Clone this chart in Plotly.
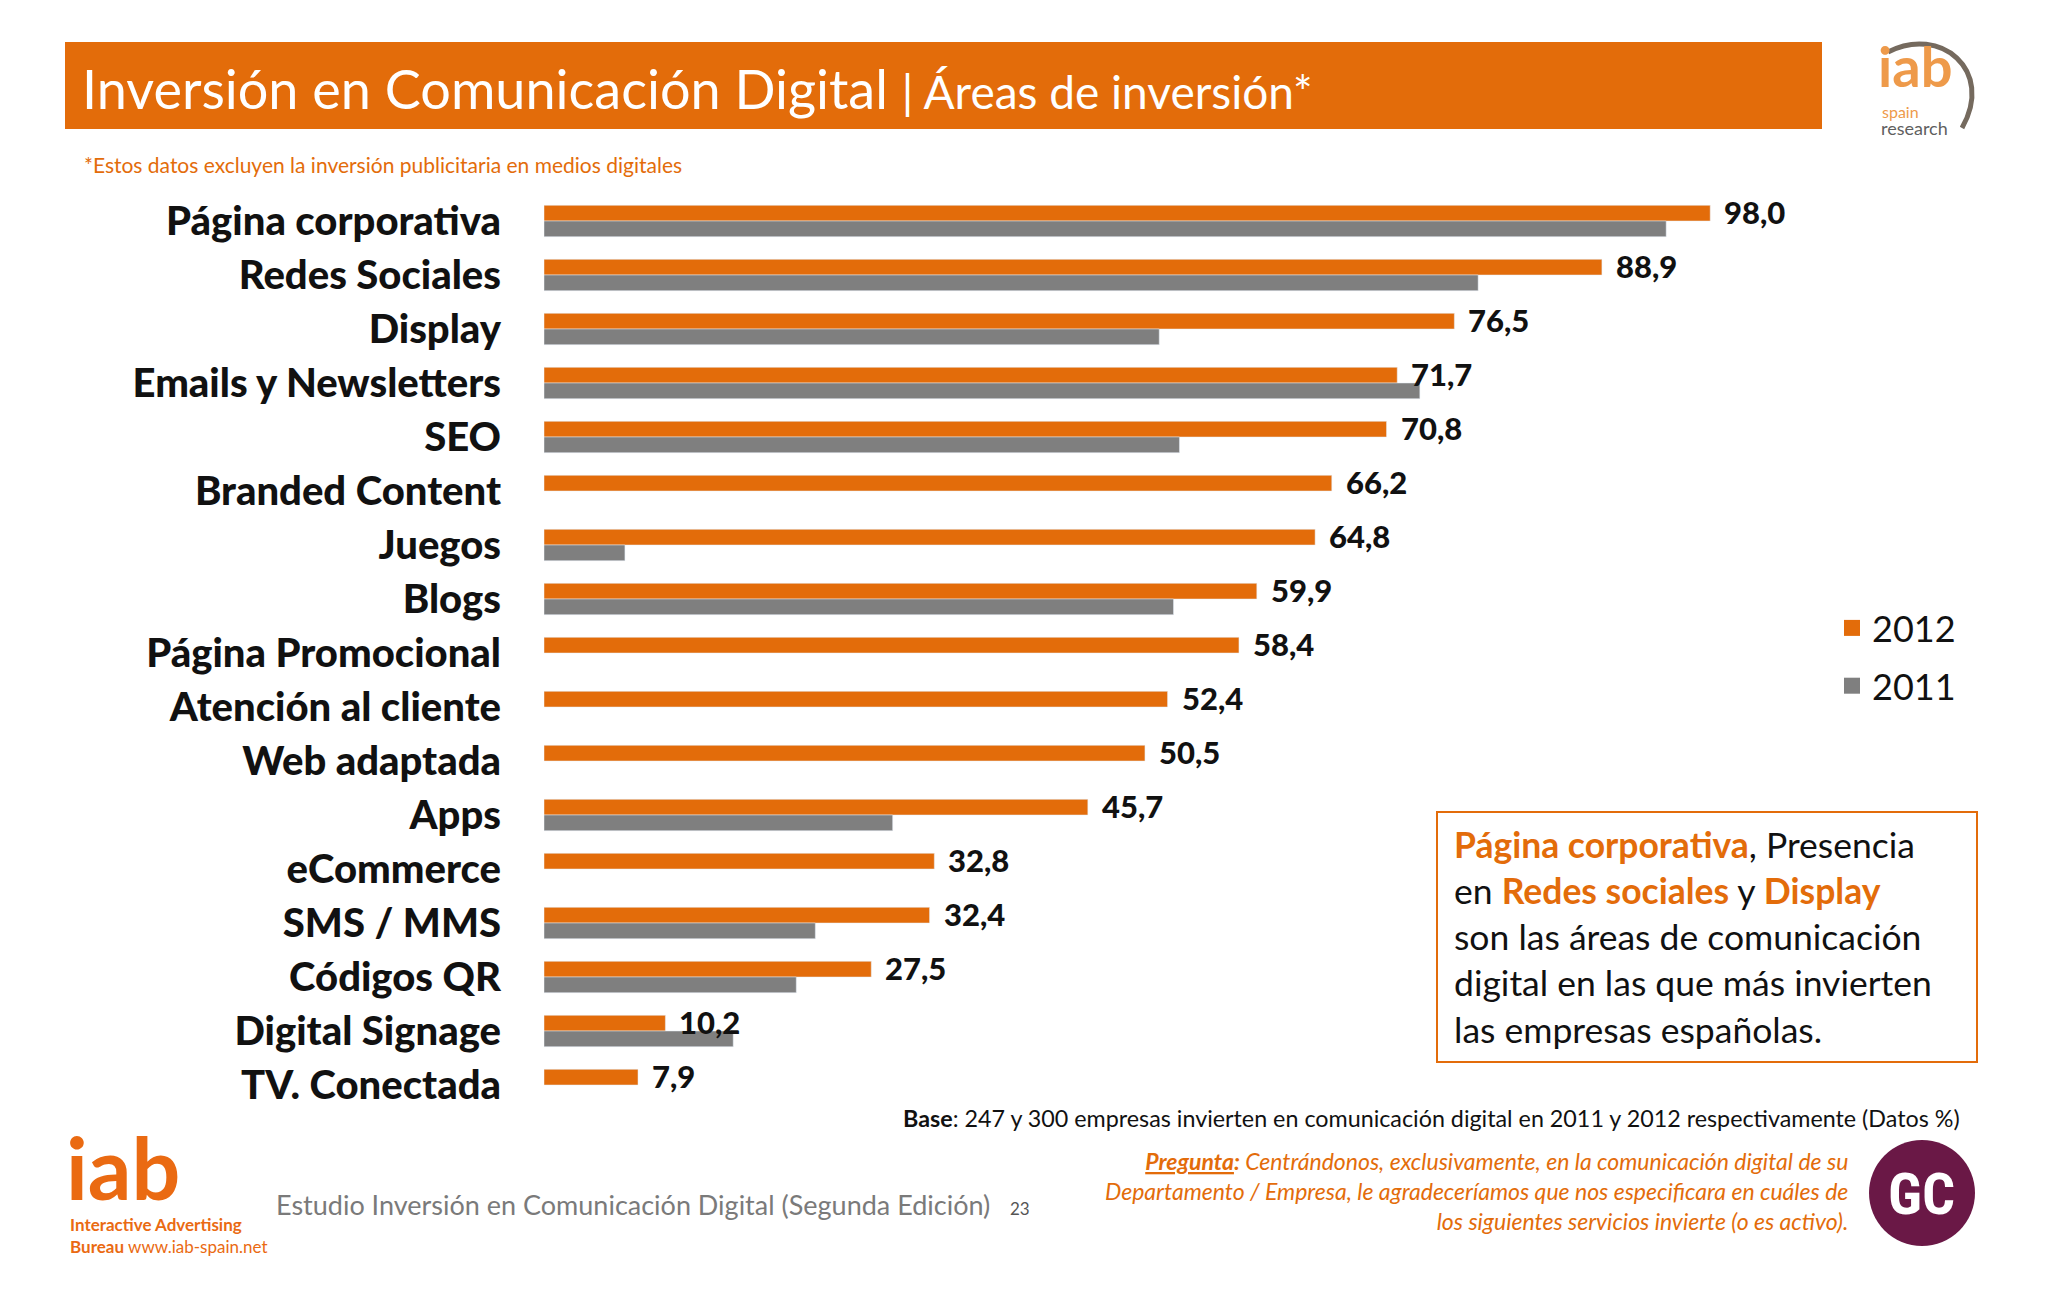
import plotly.graph_objects as go

categories = ["Página corporativa", "Redes Sociales", "Display", "Emails y Newsletters", "SEO",
              "Branded Content", "Juegos", "Blogs", "Página Promocional", "Atención al cliente",
              "Web adaptada", "Apps", "eCommerce", "SMS / MMS", "Códigos QR", "Digital Signage",
              "TV. Conectada"]
values_2012 = [98.0, 88.9, 76.5, 71.7, 70.8, 66.2, 64.8, 59.9, 58.4, 52.4, 50.5, 45.7, 32.8, 32.4, 27.5, 10.2, 7.9]
values_2011 = [94.3, 78.5, 51.7, 73.6, 53.4, None, 6.8, 52.9, None, None, None, 29.3, None, 22.8, 21.2, 15.9, None]
series_names = ["2012", "2011"]

ORANGE = "#E36C0A"
GRAY = "#7F7F7F"
FONT = "Lato"

OFF = 8  # page body margin
W, H = 2048 - 2 * OFF, 1297 - 2 * OFF
ML, MR, MT, MB = 544 - OFF, 195 - OFF, 194 - OFF, 182 - OFF
PW, PH = W - ML - MR, H - MT - MB


def px(x):
    return (x - OFF - ML) / PW


def py(y):
    return (H - MB - (y - OFF)) / PH


fig = go.Figure()
fig.add_trace(go.Bar(y=categories, x=values_2012, name=series_names[0], orientation="h",
                     marker=dict(color=ORANGE), showlegend=False))
fig.add_trace(go.Bar(y=categories, x=values_2011, name=series_names[1], orientation="h",
                     marker=dict(color=GRAY), showlegend=False))
# legend entries with square swatches
for nm, col, grp in zip(series_names, [ORANGE, GRAY], ["a", "b"]):
    fig.add_trace(go.Scatter(x=[None], y=[None], mode="markers", name=nm, legendgroup=grp,
                             marker=dict(symbol="square", size=18, color=col), showlegend=True))

annotations = []
# value labels next to 2012 bars
for c, v in zip(categories, values_2012):
    annotations.append(dict(x=v, y=c, xref="x", yref="y", text=f"{v:.1f}".replace(".", ","),
                            showarrow=False, xanchor="left", yanchor="middle", xshift=12, yshift=9,
                            font=dict(family=FONT, size=31, color="#111111", weight=900)))

# title
annotations.append(dict(x=px(80), y=py(89), xref="paper", yref="paper", xanchor="left", yanchor="middle",
                        showarrow=False,
                        text="Inversión en Comunicación Digital <span style='font-size:46px'>| Áreas de inversión*</span>",
                        font=dict(family=FONT, size=54, color="white")))
# subtitle
annotations.append(dict(x=px(82), y=py(164), xref="paper", yref="paper", xanchor="left", yanchor="middle",
                        showarrow=False,
                        text="*Estos datos excluyen la inversión publicitaria en medios digitales",
                        font=dict(family=FONT, size=21, color=ORANGE)))
# text box
annotations.append(dict(x=px(1452), y=py(937), xref="paper", yref="paper", xanchor="left", yanchor="middle",
                        showarrow=False, align="left",
                        text=(f"<b><span style='color:{ORANGE}'>Página corporativa</span></b>, Presencia<br>"
                              f"en <b><span style='color:{ORANGE}'>Redes sociales</span></b> y "
                              f"<b><span style='color:{ORANGE}'>Display</span></b><br>"
                              "son las áreas de comunicación<br>digital en las que más invierten<br>"
                              "las empresas españolas."),
                        font=dict(family=FONT, size=35.5, color="#111111")))
# base note
annotations.append(dict(x=px(1962), y=py(1118), xref="paper", yref="paper", xanchor="right", yanchor="middle",
                        showarrow=False,
                        text="<b>Base</b>: 247 y 300 empresas invierten en comunicación digital en 2011 y 2012 respectivamente (Datos %)",
                        font=dict(family=FONT, size=23.3, color="#111111")))
# pregunta
annotations.append(dict(x=px(1850), y=py(1191), xref="paper", yref="paper", xanchor="right", yanchor="middle",
                        showarrow=False, align="right",
                        text=("<i><b><u>Pregunta</u>:</b> Centrándonos, exclusivamente, en la comunicación digital de su<br>"
                              "Departamento / Empresa, le agradeceríamos que nos especificara en cuáles de<br>"
                              "los siguientes servicios invierte (o es activo).</i>"),
                        font=dict(family=FONT, size=23, color=ORANGE)))
# footer study
annotations.append(dict(x=px(274), y=py(1204), xref="paper", yref="paper", xanchor="left", yanchor="middle",
                        showarrow=False,
                        text="Estudio Inversión en Comunicación Digital (Segunda Edición)",
                        font=dict(family=FONT, size=27, color="#7a7a7a")))
annotations.append(dict(x=px(1008), y=py(1208), xref="paper", yref="paper", xanchor="left", yanchor="middle",
                        showarrow=False, text="23", font=dict(family=FONT, size=17, color="#555555")))
# iab footer logo
annotations.append(dict(x=px(64), y=py(1220), xref="paper", yref="paper", xanchor="left", yanchor="bottom",
                        showarrow=False, text="<b>iab</b>", font=dict(family=FONT, size=86, color="#EA6A12")))
annotations.append(dict(x=px(68), y=py(1235), xref="paper", yref="paper", xanchor="left", yanchor="middle",
                        showarrow=False, align="left",
                        text="<b>Interactive Advertising</b><br><b>Bureau</b> www.iab-spain.net",
                        font=dict(family=FONT, size=17, color="#EA6A12")))
# GC logo text
annotations.append(dict(x=px(1922), y=py(1194), xref="paper", yref="paper", xanchor="center", yanchor="middle",
                        showarrow=False, text="<b>GC</b>",
                        font=dict(family="Roboto Condensed, Liberation Sans Narrow, DejaVu Sans Condensed",
                                  size=58, color="white")))
# iab spain research logo
annotations.append(dict(x=px(1876), y=py(101), xref="paper", yref="paper", xanchor="left", yanchor="bottom",
                        showarrow=False, text="<b>iab</b>", font=dict(family=FONT, size=56, color="#EE9A4A")))
annotations.append(dict(x=px(1880), y=py(112), xref="paper", yref="paper", xanchor="left", yanchor="middle",
                        showarrow=False, text="spain", font=dict(family=FONT, size=16, color="#EE9A4A")))
annotations.append(dict(x=px(1879), y=py(128), xref="paper", yref="paper", xanchor="left", yanchor="middle",
                        showarrow=False, text="research", font=dict(family=FONT, size=18, color="#5f5f5f")))

shapes = [
    dict(type="rect", xref="paper", yref="paper", x0=px(65), x1=px(1822), y0=py(129), y1=py(42),
         fillcolor=ORANGE, line=dict(width=0), layer="below"),
    dict(type="rect", xref="paper", yref="paper", x0=px(1437), x1=px(1977), y0=py(1062), y1=py(812),
         fillcolor="rgba(0,0,0,0)", line=dict(color=ORANGE, width=2)),
    dict(type="circle", xref="paper", yref="paper", x0=px(1869), x1=px(1975), y0=py(1246), y1=py(1140),
         fillcolor="#6A1846", line=dict(width=0), layer="below"),
    dict(type="path", xref="paper", yref="paper",
         path=(f"M {px(1888)},{py(52)} C {px(1940)},{py(25)} {px(1995)},{py(70)} {px(1962)},{py(128)}"),
         line=dict(color="#756a5e", width=5)),
]

fig.update_layout(
    width=W, height=H,
    margin=dict(l=ML, r=MR, t=MT, b=MB),
    paper_bgcolor="white", plot_bgcolor="white",
    barmode="group", bargap=0.42, bargroupgap=0,
    xaxis=dict(range=[0, 110], visible=False, fixedrange=True),
    yaxis=dict(autorange="reversed", showline=False, showgrid=False, ticks="", ticklabelstandoff=42,
               tickfont=dict(family=FONT, size=40, color="#111111", weight=900)),
    legend=dict(x=px(1832), y=py(598), xanchor="left", yanchor="top", xref="paper", yref="paper",
                traceorder="grouped", tracegroupgap=8,
                font=dict(family=FONT, size=36, color="#111111"), itemwidth=30, bgcolor="rgba(0,0,0,0)"),
    annotations=annotations,
    shapes=shapes,
    showlegend=True,
)

fig.write_html("out.html")
